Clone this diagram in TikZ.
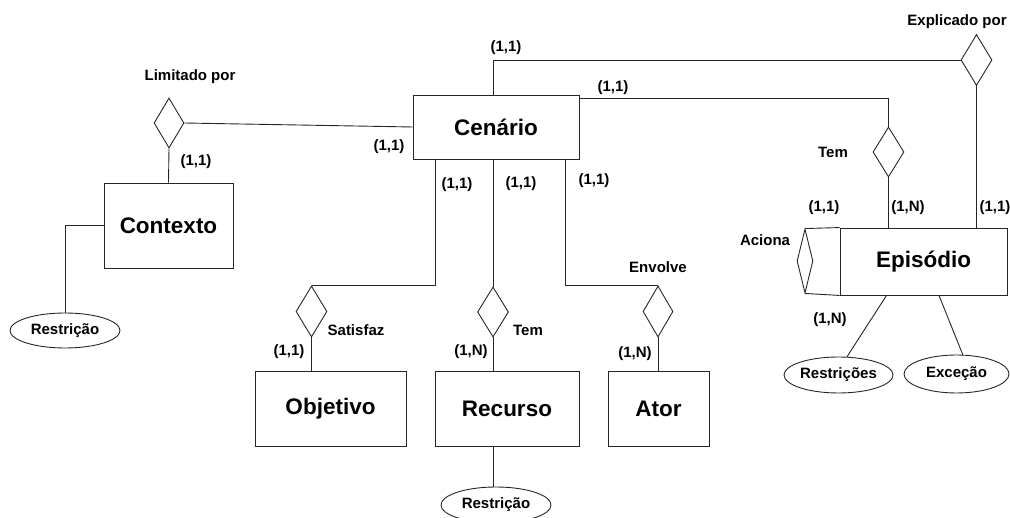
\documentclass[tikz,border=0pt]{standalone}
\usepackage{fontspec}
\setmainfont{Liberation Sans}
\usetikzlibrary{shapes.geometric}
\begin{document}
\begin{tikzpicture}[x=1pt,y=-1pt,
  line width=0.9pt, draw=black!85,
  entity/.style={draw, rectangle, inner sep=0pt, font=\fontsize{22.5}{24}\selectfont\bfseries},
  rel/.style={draw, diamond, inner sep=0pt},
  attr/.style={draw, ellipse, inner sep=0pt, font=\fontsize{15}{16}\selectfont\bfseries},
  lbl/.style={inner sep=0pt, font=\fontsize{15}{16}\selectfont\bfseries}]
\useasboundingbox (0,0) rectangle (1010,518);

% entities
\node[entity, minimum width=166pt, minimum height=64pt] (cen) at (496,127) {Cenário};
\node[entity, minimum width=129pt, minimum height=85pt] (ctx) at (168.5,225.5) {Contexto};
\node[entity, minimum width=151pt, minimum height=75pt] (obj) at (330.5,408.5) {Objetivo};
\node[entity, minimum width=144pt, minimum height=75pt] (rec) at (507,408.5) {Recurso};
\node[entity, minimum width=101pt, minimum height=75pt] (ator) at (658.5,408.5) {Ator};
\node[entity, minimum width=167pt, minimum height=67pt] (epi) at (923.5,261.5) {Episódio};

% relationships
\node[rel, minimum width=30pt, minimum height=50pt] (dLim) at (169,123) {};
\node[rel, minimum width=31pt, minimum height=51pt] (dExp) at (976.5,60) {};
\node[rel, minimum width=31pt, minimum height=50pt] (dTem) at (888.5,152) {};
\node[rel, minimum width=31pt, minimum height=51pt] (dSat) at (311.5,311.5) {};
\node[rel, minimum width=31pt, minimum height=50pt] (dRec) at (493,312) {};
\node[rel, minimum width=30pt, minimum height=51pt] (dEnv) at (658,311.5) {};
\node[rel, minimum width=16pt, minimum height=64pt] (dAci) at (805,261) {};

% attributes
\node[attr, minimum width=110pt, minimum height=35pt] (eCtx) at (65,330.5) {Restrição};
\node[attr, minimum width=110pt, minimum height=36pt] (eRec) at (496,505) {Restrição};
\node[attr, minimum width=109pt, minimum height=36pt] (eRes) at (838.5,375) {Restrições};
\node[attr, minimum width=105pt, minimum height=38pt] (eExc) at (956.5,374) {Exceção};

% connectors
\draw (dLim.east) -- (cen.west);
\draw (dLim.south) -- (ctx.north);
\draw (ctx.west) -| (eCtx.north);
\draw ([xshift=-3pt]cen.north) |- (dExp.west);
\draw ([yshift=-4pt]cen.north east) -| (dTem.north);
\draw (dTem.south) -- (dTem.south |- epi.north);
\draw (dExp.south) -- (dExp.south |- epi.north);
\draw ([xshift=-61pt]cen.south) |- (dSat.north);
\draw ([xshift=-3pt]cen.south) -- (dRec.north);
\draw ([xshift=-14pt]cen.south east) |- (dEnv.north);
\draw (dSat.south) -- (dSat.south |- obj.north);
\draw (dRec.south) -- (dRec.south |- rec.north);
\draw (dRec.south |- rec.south) -- (dRec.south |- eRec.north);
\draw (dEnv.south) -- (dEnv.south |- ator.north);
\draw (dAci.north) -- (epi.north west);
\draw (dAci.south) -- (epi.south west);
\draw ([xshift=-37pt]epi.south) -- (eRes.65);
\draw ([xshift=15.5pt]epi.south) -- (eExc.72);

% labels
\node[lbl] (tLim) at (190,77) {Limitado por};
\node[lbl] (cLim) at (196,162) {(1,1)};
\node[lbl] (cCenL) at (389,147) {(1,1)};
\node[lbl] (cExpA) at (506,48) {(1,1)};
\node[lbl] (cTemA) at (613,88) {(1,1)};
\node[lbl] (tExp) at (957,22) {Explicado por};
\node[lbl] (tTem) at (833,152) {Tem};
\node[lbl] (cAciA) at (824,208) {(1,1)};
\node[lbl] (cTemB) at (908,208) {(1,N)};
\node[lbl] (cExpB) at (995,208) {(1,1)};
\node[lbl] (tAci) at (765,240) {Aciona};
\node[lbl] (cAciB) at (830,320) {(1,N)};
\node[lbl] (cSatA) at (457,185) {(1,1)};
\node[lbl] (cRecA) at (521,184) {(1,1)};
\node[lbl] (cEnvA) at (594,181) {(1,1)};
\node[lbl] (tEnv) at (658,267) {Envolve};
\node[lbl] (tSat) at (356,330) {Satisfaz};
\node[lbl] (cSatB) at (289,352) {(1,1)};
\node[lbl] (cRecB) at (471,352) {(1,N)};
\node[lbl] (tRec) at (528,330) {Tem};
\node[lbl] (cEnvB) at (635,354) {(1,N)};
\end{tikzpicture}
\end{document}
